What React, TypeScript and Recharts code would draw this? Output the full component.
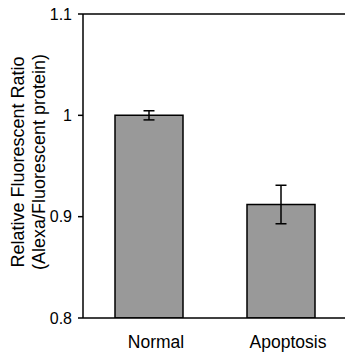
import React from 'react';
import { BarChart, Bar, XAxis, YAxis, ErrorBar, ReferenceLine, Label } from 'recharts';

const categories = ['Normal', 'Apoptosis'];
const ratios = [1.0, 0.912];
const errors = [0.0045, 0.019];
const yTicks = [0.8, 0.9, 1, 1.1];

const data = categories.map((name, i) => ({ name, ratio: ratios[i], err: errors[i] }));

const FONT = '"Liberation Sans", Arial, sans-serif';

const CategoryTick = ({ x, y, payload }: any) => (
  <text x={x + 7} y={y + 30} textAnchor="middle" fontFamily={FONT} fontSize={17.5} fill="#000">
    {payload.value}
  </text>
);

// two-line rotated axis title
const YTitle = ({ viewBox }: any) => {
  const cy = viewBox.y + viewBox.height / 2 - 4;
  return (
    <g fontFamily={FONT} fontSize={18} fill="#000">
      <text x={24} y={cy} textAnchor="middle" transform={`rotate(-90, 24, ${cy})`}>
        Relative Fluorescent Ratio
      </text>
      <text x={45} y={cy} textAnchor="middle" transform={`rotate(-90, 45, ${cy})`}>
        (Alexa/Fluorescent protein)
      </text>
    </g>
  );
};

export default function App() {
  return (
    <div style={{ position: 'absolute', left: 0, top: 0, width: 345, height: 354, overflow: 'hidden', background: '#fff' }}>
      <BarChart width={347} height={354} data={data} margin={{ top: 14, right: 0, left: 0, bottom: 0 }}>
        <XAxis
          dataKey="name"
          height={36}
          tickLine={false}
          tickSize={0}
          tickMargin={0}
          axisLine={{ stroke: '#000', strokeWidth: 1.5 }}
          tick={<CategoryTick />}
          interval={0}
        />
        <YAxis
          width={83}
          domain={[0.8, 1.1]}
          ticks={yTicks}
          allowDataOverflow
          tickSize={5}
          tickMargin={6}
          axisLine={{ stroke: '#000', strokeWidth: 1.5 }}
          tickLine={{ stroke: '#000', strokeWidth: 1.5 }}
          tick={{ fill: '#000', fontSize: 16, fontFamily: FONT }}
        >
          <Label content={<YTitle />} />
        </YAxis>
        <ReferenceLine y={1.1} stroke="#000" strokeWidth={1.5} />
        <Bar dataKey="ratio" fill="#999999" stroke="#000" strokeWidth={1.5} barSize={68} isAnimationActive={false}>
          <ErrorBar dataKey="err" width={5.5} stroke="#000" strokeWidth={1.5} />
        </Bar>
      </BarChart>
    </div>
  );
}
